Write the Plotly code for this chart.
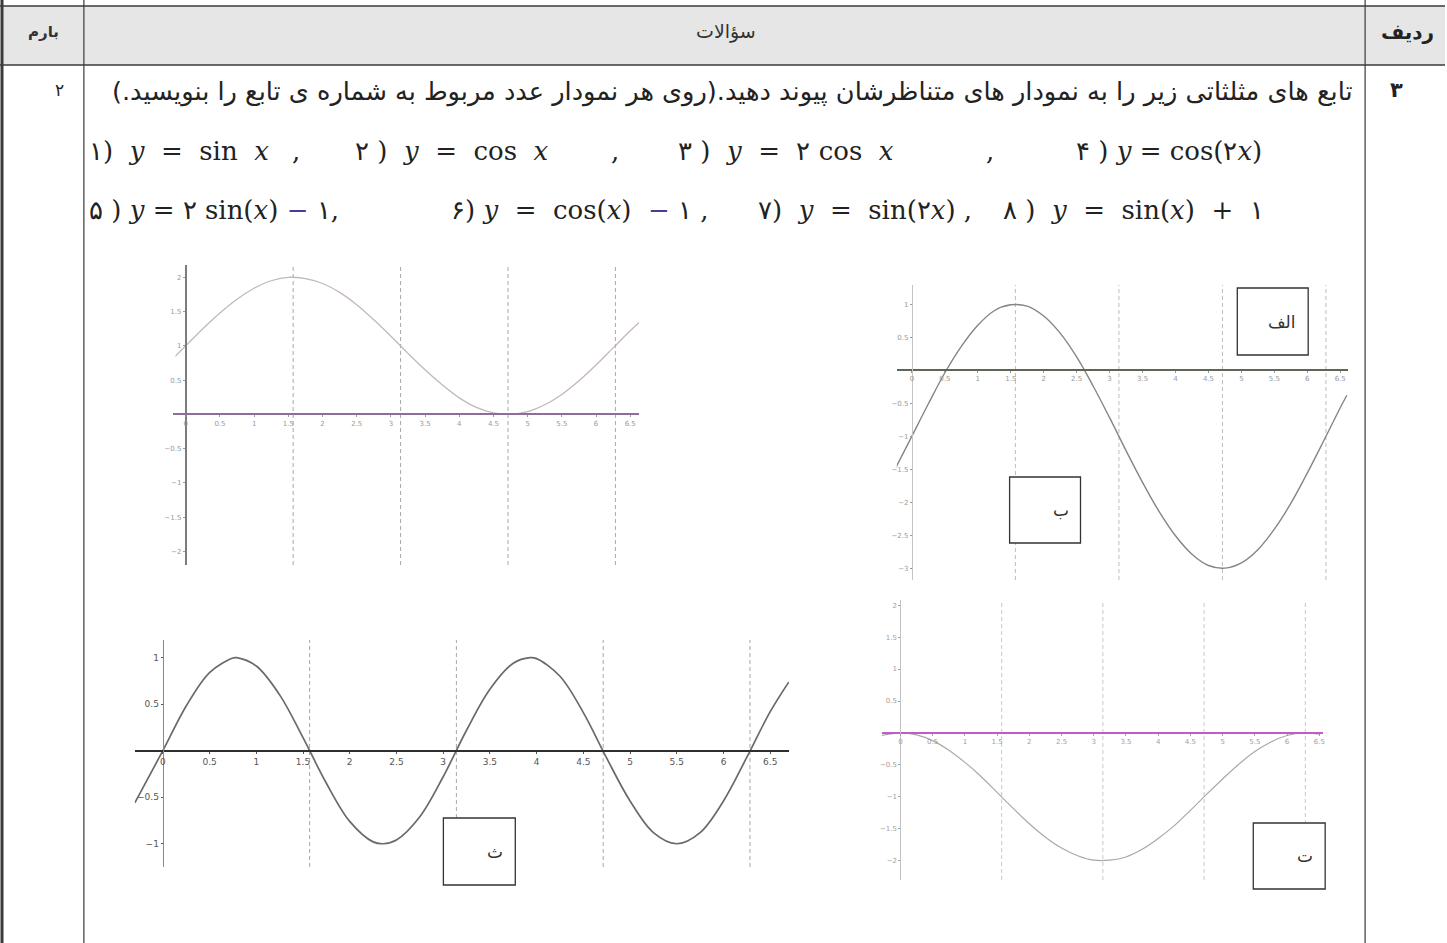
import plotly.graph_objects as go

W, H = 1447, 943

# curve readings (x, y) for each of the four small graphs
a_x = [-0.15, 0, 0.25, 0.5, 0.75, 1, 1.25, 1.5, 1.75, 2, 2.25, 2.5, 2.75, 3, 3.25, 3.5,
       3.75, 4, 4.25, 4.5, 4.75, 5, 5.25, 5.5, 5.75, 6, 6.25, 6.5, 6.63]
a_y = [0.85, 1.0, 1.25, 1.48, 1.68, 1.84, 1.95, 2.0, 1.98, 1.91, 1.78, 1.6, 1.38, 1.14,
       0.89, 0.65, 0.43, 0.24, 0.1, 0.02, 0.0, 0.04, 0.14, 0.29, 0.49, 0.72, 0.97, 1.22, 1.34]

b_x = [-0.25, 0, 0.25, 0.5, 0.75, 1, 1.25, 1.5, 1.75, 2, 2.25, 2.5, 2.75, 3, 3.25, 3.5,
       3.75, 4, 4.25, 4.5, 4.75, 5, 5.25, 5.5, 5.75, 6, 6.25, 6.5, 6.6]
b_y = [-1.49, -1.0, -0.51, -0.04, 0.36, 0.68, 0.9, 0.99, 0.97, 0.82, 0.56, 0.2, -0.24,
       -0.72, -1.22, -1.7, -2.14, -2.51, -2.79, -2.96, -3.0, -2.92, -2.72, -2.41, -2.02,
       -1.56, -1.07, -0.57, -0.38]

c_x = [-0.3, 0, 0.25, 0.5, 0.75, 0.79, 1, 1.25, 1.5, 1.75, 2, 2.25, 2.36, 2.5, 2.75, 3,
       3.25, 3.5, 3.75, 3.93, 4, 4.25, 4.5, 4.75, 5, 5.25, 5.5, 5.75, 6, 6.25, 6.5, 6.7]
c_y = [-0.56, 0.0, 0.48, 0.84, 0.997, 1.0, 0.91, 0.6, 0.14, -0.35, -0.76, -0.98, -1.0,
       -0.96, -0.71, -0.28, 0.22, 0.66, 0.94, 1.0, 0.99, 0.8, 0.41, -0.08, -0.54, -0.88,
       -1.0, -0.88, -0.54, -0.07, 0.42, 0.74]

d_x = [-0.3, 0, 0.25, 0.5, 0.75, 1, 1.25, 1.5, 1.75, 2, 2.25, 2.5, 2.75, 3, 3.25, 3.5,
       3.75, 4, 4.25, 4.5, 4.75, 5, 5.25, 5.5, 5.75, 6, 6.25, 6.5]
d_y = [-0.04, 0.0, -0.03, -0.12, -0.27, -0.46, -0.68, -0.93, -1.18, -1.42, -1.63, -1.8,
       -1.92, -1.99, -1.99, -1.94, -1.82, -1.65, -1.45, -1.21, -0.96, -0.72, -0.49, -0.29,
       -0.14, -0.04, 0.0, -0.02]

# dashed guide lines (pi/2 multiples) and tick labels
guide_x = [1.5708, 3.1416, 4.7124, 6.2832]
x_ticks = [0, 0.5, 1, 1.5, 2, 2.5, 3, 3.5, 4, 4.5, 5, 5.5, 6, 6.5]
a_yticks = [-2, -1.5, -1, -0.5, 0.5, 1, 1.5, 2]
b_yticks = [-3, -2.5, -2, -1.5, -1, -0.5, 0.5, 1]
c_yticks = [-1, -0.5, 0.5, 1]
d_yticks = [-2, -1.5, -1, -0.5, 0.5, 1, 1.5, 2]

# panel boxes in page pixels (left, top, right, bottom) and axis ranges
panels = [
    dict(x=a_x, y=a_y, box=(173, 265, 640, 565), xr=[-0.19, 6.63], yr=[-2.2, 2.18],
         yt=a_yticks, curve="#c4b6c1", cw=1.3, xl="#8e6c9e", xw=2.2, yl="#7c7c7c", yw=2,
         guide="#a8a8a8", tf=7, tc="#9a9a9a"),
    dict(x=b_x, y=b_y, box=(898, 285, 1350, 580), xr=[-0.23, 6.62], yr=[-3.18, 1.29],
         yt=b_yticks, curve="#858585", cw=1.4, xl="#5f6656", xw=1.6, yl="#c4c4c4", yw=1,
         guide="#bdbdbd", tf=7, tc="#9a9a9a"),
    dict(x=c_x, y=c_y, box=(135, 640, 790, 867), xr=[-0.30, 6.70], yr=[-1.25, 1.19],
         yt=c_yticks, curve="#6a6a6a", cw=1.7, xl="#2e2e2e", xw=2, yl="#8a8a8a", yw=1.3,
         guide="#a8a8a8", tf=9, tc="#555555"),
    dict(x=d_x, y=d_y, box=(883, 600, 1325, 880), xr=[-0.29, 6.56], yr=[-2.3, 2.08],
         yt=d_yticks, curve="#a9a9a9", cw=1.2, xl="#c25ac9", xw=1.6, yl="#c2c2c2", yw=1.2,
         guide="#c8c8c8", tf=7, tc="#a0a0a0"),
]

fig = go.Figure()
layout = {}

for i, p in enumerate(panels, start=1):
    sfx = "" if i == 1 else str(i)
    l, t, r, b = p["box"]
    dx = [l / W, r / W]
    dy = [1 - b / H, 1 - t / H]
    # put each axis line through the origin of the other axis
    xpos = dy[0] + (0 - p["yr"][0]) / (p["yr"][1] - p["yr"][0]) * (dy[1] - dy[0])
    ypos = dx[0] + (0 - p["xr"][0]) / (p["xr"][1] - p["xr"][0]) * (dx[1] - dx[0])
    layout["xaxis" + sfx] = dict(
        domain=dx, range=p["xr"], anchor="free", position=xpos,
        showline=True, linecolor=p["xl"], linewidth=p["xw"], showgrid=False, zeroline=False,
        tickmode="array", tickvals=x_ticks, ticks="outside", ticklen=2, tickcolor=p["tc"],
        tickfont=dict(family="DejaVu Sans", size=p["tf"], color=p["tc"]),
    )
    layout["yaxis" + sfx] = dict(
        domain=dy, range=p["yr"], anchor="free", position=ypos,
        showline=True, linecolor=p["yl"], linewidth=p["yw"], showgrid=False, zeroline=False,
        tickmode="array", tickvals=p["yt"], ticks="outside", ticklen=2, tickcolor=p["tc"],
        tickfont=dict(family="DejaVu Sans", size=p["tf"], color=p["tc"]),
    )
    fig.add_trace(go.Scatter(
        x=p["x"], y=p["y"], mode="lines", xaxis="x" + sfx, yaxis="y" + sfx,
        line=dict(color=p["curve"], width=p["cw"], shape="spline", smoothing=1.0),
        showlegend=False, hoverinfo="skip",
    ))
    for g in guide_x:
        fig.add_shape(type="line", xref="x" + sfx, yref="y" + sfx + " domain",
                      x0=g, x1=g, y0=0, y1=1,
                      line=dict(color=p["guide"], width=1, dash="4px,3px"), layer="below")

# page table: header band and rules
def px(x):
    return x / W

def py(y):
    return 1 - y / H

fig.add_shape(type="rect", xref="paper", yref="paper", x0=px(2), x1=1, y0=py(65), y1=py(6),
              fillcolor="#e6e6e6", line=dict(width=0), layer="below")
rules = [
    (0, 6, W, 6, 1.5), (0, 65, W, 65, 1.5),
    (2, 0, 2, H, 3), (84, 0, 84, H, 1.2), (1367, 0, 1367, H, 1.2),
]
for x0, y0, x1, y1, w in rules:
    fig.add_shape(type="line", xref="paper", yref="paper", x0=px(x0), x1=px(x1),
                  y0=py(y0), y1=py(y1), line=dict(color="#3a3a3a", width=w))

# answer boxes
boxes = [
    ("الف", (1239, 288, 1310, 355)),
    ("ب", (1011, 477, 1082, 543)),
    ("ث", (444, 818, 516, 885)),
    ("ت", (1255, 823, 1327, 889)),
]
for label, (l, t, r, b) in boxes:
    fig.add_shape(type="rect", xref="paper", yref="paper", x0=px(l), x1=px(r),
                  y0=py(b), y1=py(t), line=dict(color="#333333", width=1.3),
                  fillcolor="white")
    fig.add_annotation(xref="paper", yref="paper", x=px(r - 10), y=py((t + b) / 2),
                       xanchor="right", yanchor="middle", text=label, showarrow=False,
                       font=dict(family="DejaVu Sans", size=17, color="#333333"))

RLM = "\u200f"
texts = [
    ("<b>بارم</b>", 44, 32, "center", 15, "#333333"),
    ("سؤالات", 727, 32, "center", 19, "#333333"),
    ("<b>ردیف</b>", 1409, 32, "center", 20, "#222222"),
    ("<b>۳</b>", 1398, 90, "center", 21, "#222222"),
    ("۲", 60, 90, "center", 17, "#222222"),
    (RLM + "تابع های مثلثاتی زیر را به نمودار های متناظرشان پیوند دهید.(روی هر نمودار عدد مربوط به شماره ی تابع را بنویسید.)" + RLM,
     1357, 92, "right", 25.6, "#222222"),
]
for txt, x, y, anchor, size, col in texts:
    fig.add_annotation(xref="paper", yref="paper", x=px(x), y=py(y), xanchor=anchor,
                       yanchor="middle", text=txt, showarrow=False,
                       font=dict(family="DejaVu Sans", size=size, color=col))

# the list of functions
M = "<span style='color:#4a3d9a'>−</span>"
formulas = [
    ("۱)  <i>y</i>  =  sin  <i>x</i>", 87, 151), (",", 290, 151),
    ("۲ )  <i>y</i>  =  cos  <i>x</i>", 353, 151), (",", 610, 151),
    ("۳ )  <i>y</i>  =  ۲ cos  <i>x</i>", 677, 151), (",", 985, 151),
    ("۴ ) <i>y</i> = cos(۲<i>x</i>)", 1075, 151),
    ("۵ ) <i>y</i> = ۲ sin(<i>x</i>) " + M + " ۱,", 87, 210),
    ("۶) <i>y</i>  =  cos(<i>x</i>)  " + M + " ۱ ,", 450, 210),
    ("۷)  <i>y</i>  =  sin(۲<i>x</i>) ,", 757, 210),
    ("۸ )  <i>y</i>  =  sin(<i>x</i>)  +  ۱", 1002, 210),
]
for txt, x, y in formulas:
    fig.add_annotation(xref="paper", yref="paper", x=px(x), y=py(y), xanchor="left",
                       yanchor="middle", text=txt, showarrow=False,
                       font=dict(family="DejaVu Serif, Liberation Serif, serif",
                                 size=26, color="#222222"))

fig.update_layout(
    width=W, height=H, margin=dict(l=0, r=0, t=0, b=0),
    paper_bgcolor="white", plot_bgcolor="rgba(0,0,0,0)", showlegend=False,
    **layout,
)

fig.write_html("out.html", config={"displayModeBar": False},
               post_script="document.body.style.margin='0';")
